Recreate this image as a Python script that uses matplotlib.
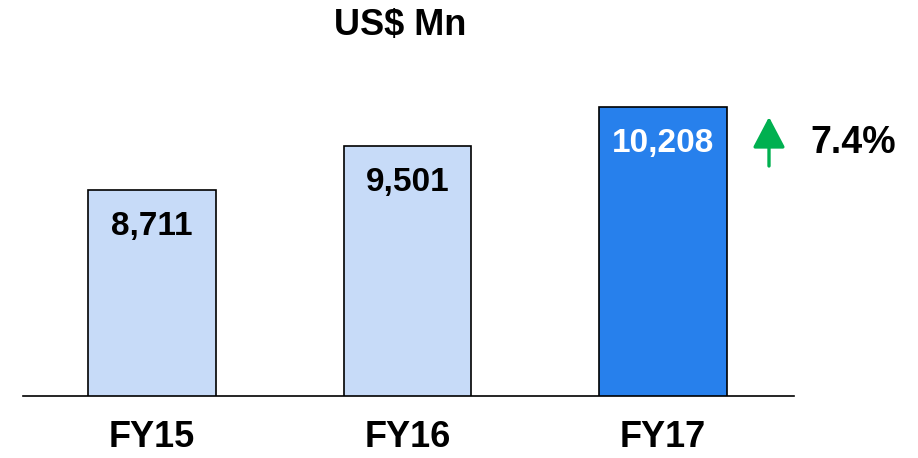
"""
Bar chart of yearly revenue (US$ Mn) for FY15 to FY17, with growth arrow.
"""

import matplotlib.pyplot as plt

plt.rcParams["font.family"] = ["Liberation Sans", "DejaVu Sans"]

years = ["FY15", "FY16", "FY17"]
values = [8711, 9501, 10208]
value_labels = ["8,711", "9,501", "10,208"]
growth = "7.4%"

light = "#C7DBF8"
dark = "#2780EC"
green = "#00B050"

fig = plt.figure(figsize=(9.18, 4.58), dpi=100)
ax = fig.add_axes([23 / 918, 62 / 458, 771 / 918, 396 / 458])

colors = [light, light, dark]
bars = ax.bar(range(len(years)), values, width=0.5, color=colors,
              edgecolor="black", linewidth=1.2, zorder=2)

# axis limits chosen so the baseline sits at 5,000
ax.set_xlim(-0.505, 2.513)
ax.set_ylim(5000, 5000 + 396 * 18)

for i, (v, lab) in enumerate(zip(values, value_labels)):
    txt_color = "white" if i == len(values) - 1 else "black"
    ax.text(i, v - 37 * 18, lab, ha="center", va="center",
            fontsize=24, weight="bold", color=txt_color, zorder=3)

# only the bottom spine remains
for side in ["top", "right", "left"]:
    ax.spines[side].set_visible(False)
ax.spines["bottom"].set_linewidth(1.2)
ax.set_yticks([])
ax.set_xticks(range(len(years)))
ax.set_xticklabels(years, fontsize=26, weight="bold")
ax.tick_params(axis="x", length=0, pad=17)

fig.text(400 / 918, 1 - 25 / 458, "US$ Mn", ha="center", va="center",
         fontsize=26, weight="bold")

# growth arrow and percentage
ax.annotate("", xy=(769 / 918, 1 - 117 / 458),
            xytext=(769 / 918, 1 - 166 / 458),
            xycoords="figure fraction", textcoords="figure fraction",
            arrowprops=dict(arrowstyle="-|>,head_length=19,head_width=10",
                            mutation_scale=1, color=green, lw=2.4,
                            shrinkA=0, shrinkB=0))
fig.text(853 / 918, 1 - 143 / 458, growth, ha="center", va="center",
         fontsize=27, weight="bold")

plt.savefig("out.png", dpi=100)
